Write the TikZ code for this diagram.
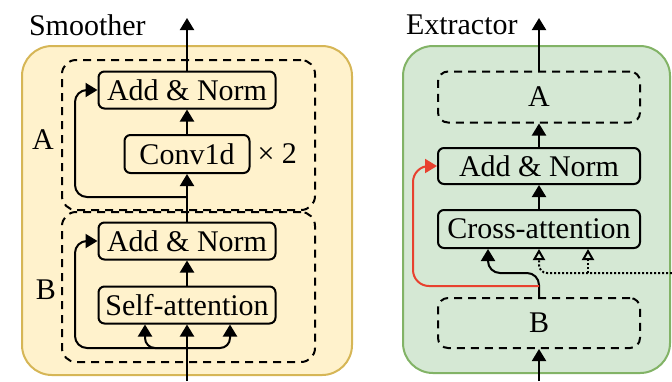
\documentclass[tikz,border=0pt]{standalone}
\usepackage{fontspec}
\setmainfont{Liberation Serif}
\usetikzlibrary{arrows.meta,positioning,calc}
\definecolor{smoothfill}{HTML}{FFF2CC}
\definecolor{smoothline}{HTML}{D6B656}
\definecolor{extractfill}{HTML}{D5E8D4}
\definecolor{extractline}{HTML}{82B366}
\definecolor{resred}{HTML}{E8412F}

\begin{document}
\begin{tikzpicture}[x=0.5pt,y=-0.5pt,line width=1pt,
  font=\fontsize{15}{18}\selectfont,
  blk/.style={draw,rounded corners=3pt,minimum height=18.5pt,inner sep=2pt},
  dbox/.style={draw,dash pattern=on 4pt off 3pt,rounded corners=5pt,inner sep=2pt},
  tip/.style={-{Triangle[length=6pt,width=7pt]}},
  otip/.style={-{Triangle[open,length=5.5pt,width=6pt]}},
  dotline/.style={dash pattern=on 1pt off 1pt}]
\useasboundingbox (0,0) rectangle (672,381);
% panels
\draw[smoothline,fill=smoothfill,rounded corners=15pt] (22,46) rectangle (352,375);
\draw[extractline,fill=extractfill,rounded corners=15pt] (403,46) rectangle (670,373);

% smoother
\node[anchor=west,inner sep=0pt] (stitle) at (28,25) {Smoother};
\node[dbox,rounded corners=7pt,minimum width=126.5pt,minimum height=75pt] (grpA) at (188.5,135) {};
\node[dbox,rounded corners=7pt,minimum width=126.5pt,minimum height=75pt] (grpB) at (188.5,287) {};
\node[blk,minimum width=88.5pt] (addA) at (187,90) {Add \& Norm};
\node[blk,minimum width=62.5pt,minimum height=19pt] (conv) at (187,154) {Conv1d};
\node[right=2pt of conv,inner sep=1pt] (rep) {× 2};
\node[blk,minimum width=88.5pt] (addB) at (187,241) {Add \& Norm};
\node[blk,minimum width=88.5pt] (sa) at (187,305) {Self-attention};
\node (labA) at (43,140) {A};
\node (labB) at (46,290) {B};
\coordinate (sout) at (187,18);
\coordinate (sin) at (187,381);
\coordinate (forkA) at (187,197);
\coordinate (forkB) at (187,348);
\path[tip]
(sin) edge (sa.south)
(sa) edge (addB)
(addB) edge (conv)
(conv) edge (addA)
(addA) edge (sout);
\draw[tip,rounded corners=6pt] (forkA) -| (75,90) -- (addA.west);
\draw[tip,rounded corners=6pt] (forkB) -| (75,241) -- (addB.west);
\draw[tip,rounded corners=5pt] (forkB) -| ($(sa.south)+(-42,0)$);
\draw[tip,rounded corners=5pt] (forkB) -| ($(sa.south)+(43,0)$);

% extractor
\node[anchor=west,inner sep=0pt] (etitle) at (405,25) {Extractor};
\node[dbox,minimum width=101pt,minimum height=25.5pt] (eA) at (539,97) {A};
\node[blk,minimum width=101pt,minimum height=18pt] (eadd) at (539,166) {Add \& Norm};
\node[blk,minimum width=101pt,minimum height=19pt] (cross) at (539,229) {Cross-attention};
\node[dbox,minimum width=101pt,minimum height=25pt] (eB) at (539,323) {B};
\coordinate (eout) at (539,18);
\coordinate (ein) at (539,381);
\coordinate (efork) at (539,286);
\coordinate (mem) at (672,273);
\path[tip]
(ein) edge (eB)
(eadd) edge (eA)
(cross) edge (eadd)
(eA) edge (eout);
\draw[tip,rounded corners=6pt] (eB.north) |- (488,273) -- ($(cross.south)+(-51,0)$);
\draw[resred,tip,rounded corners=8pt] (efork) -| (413,166) -- (eadd.west);
\draw[dotline,otip,rounded corners=4pt] (mem) -| (cross.south);
\draw[dotline,otip] (588,273) -- ($(cross.south)+(49,0)$);
\end{tikzpicture}
\end{document}
